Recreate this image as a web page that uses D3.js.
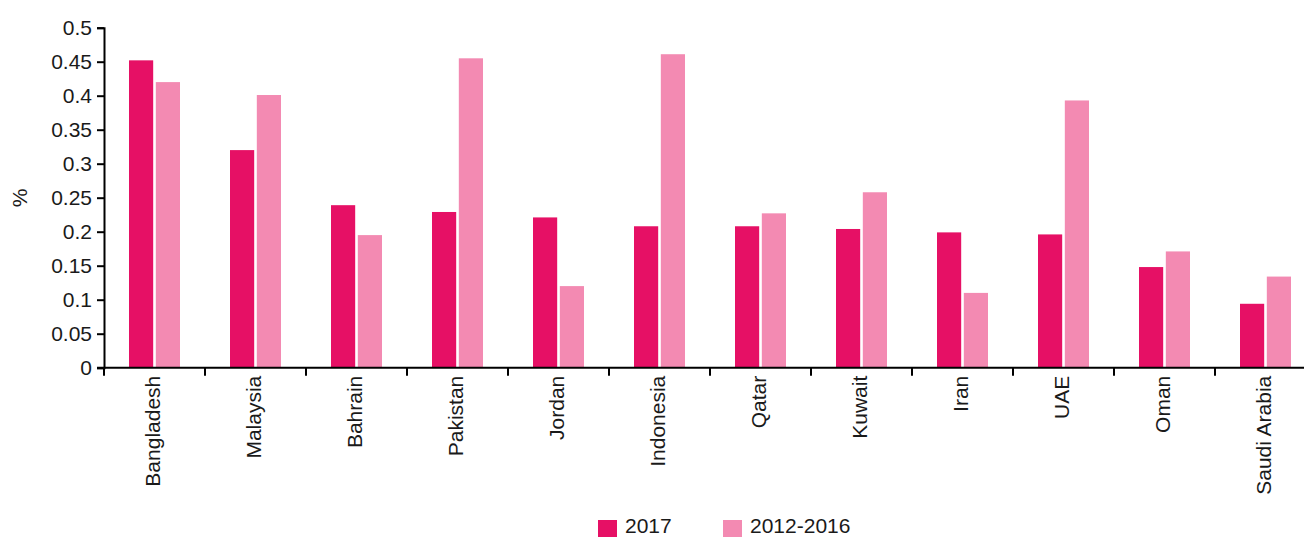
<!DOCTYPE html>
<html><head><meta charset="utf-8">
<script src="https://cdn.jsdelivr.net/npm/d3@7"></script>
<style>body{margin:0;background:#fff;} svg{display:block;font-family:"Liberation Sans",Arial,sans-serif;}</style>
</head><body>
<svg id="c" width="1304" height="538"></svg>
<script>
const categories = ["Bangladesh","Malaysia","Bahrain","Pakistan","Jordan","Indonesia","Qatar","Kuwait","Iran","UAE","Oman","Saudi Arabia"];
const values2017 = [0.452,0.320,0.239,0.229,0.221,0.208,0.208,0.204,0.199,0.196,0.148,0.094];
const values2012_2016 = [0.420,0.401,0.195,0.455,0.120,0.461,0.227,0.258,0.110,0.393,0.171,0.134];
const seriesNames = ["2017","2012-2016"];
const yTicks = [0,0.05,0.1,0.15,0.2,0.25,0.3,0.35,0.4,0.45,0.5];
const colors = ["#E61065","#F38AB2"];

const svg = d3.select("#c");
const x0 = 104, x1 = 1316, yTop = 27.7, yBot = 367.7;
const x = d3.scaleBand().domain(categories).range([x0, x1]).paddingInner(0).paddingOuter(0);
const y = d3.scaleLinear().domain([0,0.5]).range([yBot, yTop]);
const inner = d3.scaleBand().domain(seriesNames).range([25, 76]).paddingInner(5/51);

const data = categories.map((c,i)=>({c, v:[values2017[i], values2012_2016[i]]}));
const g = svg.append("g");
data.forEach(d=>{
  seriesNames.forEach((s,j)=>{
    g.append("rect")
      .attr("x", x(d.c)+inner(s))
      .attr("width", inner.bandwidth())
      .attr("y", y(d.v[j]))
      .attr("height", yBot - y(d.v[j]))
      .attr("fill", colors[j]);
  });
});

// Y axis
const yAxis = d3.axisLeft(y).tickValues(yTicks).tickFormat(d=>String(d)).tickSizeOuter(0).tickSize(7).tickPadding(5);
const ya = svg.append("g").attr("transform",`translate(${x0},0)`).call(yAxis);
ya.select(".domain").attr("stroke","#000").attr("stroke-width",2);
ya.selectAll(".tick line").attr("stroke","#000").attr("stroke-width",2);
ya.selectAll("text").attr("font-size",21).attr("fill","#1a1a1a").attr("font-family","Liberation Sans, Arial, sans-serif");

// X axis
const xa = svg.append("g").attr("transform",`translate(0,${yBot})`);
xa.append("line").attr("x1",x0-7).attr("x2",x1).attr("y1",0).attr("y2",0).attr("stroke","#000").attr("stroke-width",2);
categories.forEach((c,i)=>{
  if(i>0){
    xa.append("line").attr("x1",x(c)).attr("x2",x(c)).attr("y1",0).attr("y2",8).attr("stroke","#000").attr("stroke-width",2);
  }
  xa.append("text")
    .attr("transform",`translate(${x(c)+x.bandwidth()/2 - 1.5},8) rotate(-90)`)
    .attr("text-anchor","end").attr("dy","0.35em")
    .attr("font-size",21).attr("fill","#1a1a1a").text(c);
});
xa.append("line").attr("x1",x0).attr("x2",x0).attr("y1",0).attr("y2",8).attr("stroke","#000").attr("stroke-width",2);

// Y label
svg.append("text").attr("transform","translate(20,198) rotate(-90)").attr("text-anchor","middle").attr("dy","0.35em")
  .attr("font-size",21).attr("fill","#1a1a1a").text("%");

// Legend
const legX = [598, 723];
seriesNames.forEach((s,j)=>{
  svg.append("rect").attr("x",legX[j]).attr("y",520).attr("width",19).attr("height",17).attr("fill",colors[j]);
  svg.append("text").attr("x",legX[j]+27).attr("y",533).attr("font-size",21).attr("fill","#1a1a1a").text(s);
});
</script>
</body></html>
